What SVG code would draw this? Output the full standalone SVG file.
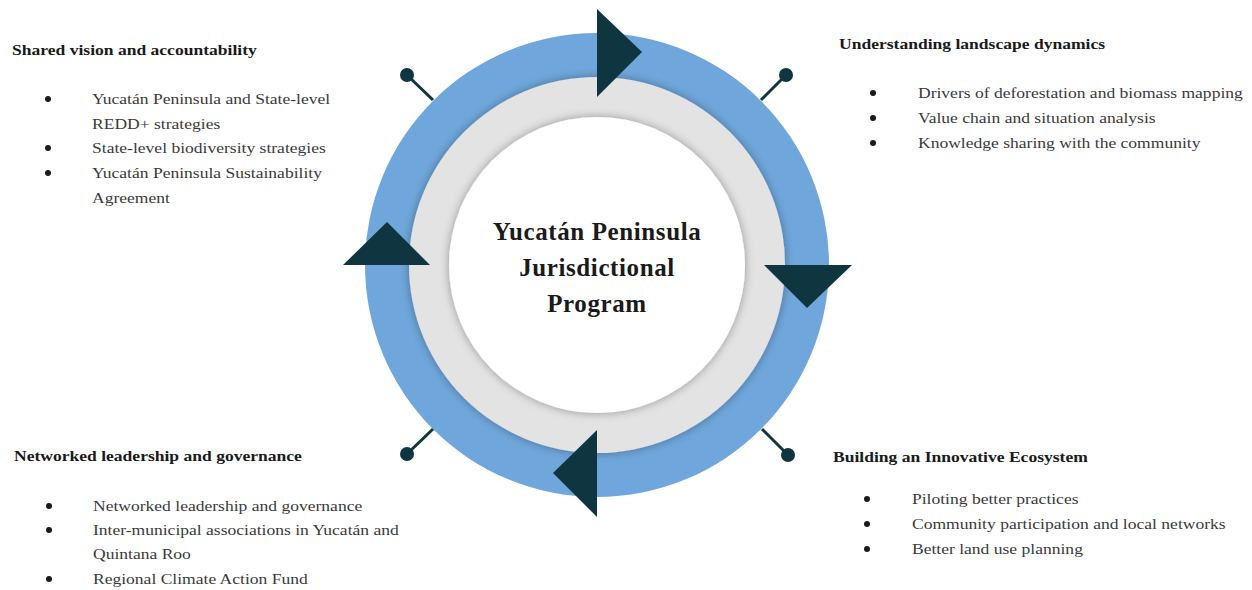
<svg xmlns="http://www.w3.org/2000/svg" width="1252" height="590" viewBox="0 0 1252 590">
<defs>
<style>
.title{font-family:"Liberation Serif",serif;font-weight:bold;font-size:15px;fill:#1a1a1a}
.item{font-family:"Liberation Serif",serif;font-size:15px;fill:#3a3a3a}
.center{font-family:"Liberation Serif",serif;font-weight:bold;font-size:25px;fill:#1a1a1a;text-anchor:middle;letter-spacing:0.6px}
.arrow{fill:#0e3540}
.pin{stroke:#0e3540;stroke-width:3}
.dot{fill:#0e3540}
.bul{fill:#1a1a1a}
</style>
<filter id="sh" x="-20%" y="-20%" width="140%" height="140%">
<feDropShadow dx="0" dy="0" stdDeviation="5" flood-color="#000" flood-opacity="0.35"/>
</filter>
</defs>
<rect width="1252" height="590" fill="#fff"/>
<g id="ring">
<circle cx="597" cy="265" r="232" fill="#6fa7dc"/>
<circle cx="597" cy="265" r="188" fill="#e3e3e3" filter="url(#sh)"/>
<circle cx="597" cy="265" r="148" fill="#fff" filter="url(#sh)"/>
</g>
<g id="connectors">
<line class="pin" x1="407" y1="75" x2="433" y2="100"/>
<circle class="dot" cx="407" cy="75" r="7"/>
<line class="pin" x1="786" y1="75" x2="761" y2="100"/>
<circle class="dot" cx="786" cy="75" r="7"/>
<line class="pin" x1="407" y1="454" x2="433" y2="429"/>
<circle class="dot" cx="407" cy="454" r="7"/>
<line class="pin" x1="788" y1="455" x2="762" y2="429"/>
<circle class="dot" cx="788" cy="455" r="7"/>
<polygon class="arrow" points="597,9 597,97 642,52"/>
<polygon class="arrow" points="764,265 852,265 807,308"/>
<polygon class="arrow" points="597,430 597,517 553,473"/>
<polygon class="arrow" points="343,265 430,265 387,222"/>
</g>
<g id="center">
<text class="center" x="597" y="240">Yucatán Peninsula</text>
<text class="center" x="597" y="276">Jurisdictional</text>
<text class="center" x="597" y="312">Program</text>
</g>
<g id="shared-vision">
<circle class="bul" cx="48" cy="99" r="3"/>
<circle class="bul" cx="48" cy="148" r="3"/>
<circle class="bul" cx="48" cy="173" r="3"/>
<g transform="translate(12,0) scale(1.17,1)">
<text class="title" x="0" y="55">Shared vision and accountability</text>
<text class="item" x="68.4" y="104">Yucatán Peninsula and State-level</text>
<text class="item" x="68.4" y="129">REDD+ strategies</text>
<text class="item" x="68.4" y="153">State-level biodiversity strategies</text>
<text class="item" x="68.4" y="178">Yucatán Peninsula Sustainability</text>
<text class="item" x="68.4" y="203">Agreement</text>
</g>
</g>
<g id="landscape">
<circle class="bul" cx="873" cy="93" r="3"/>
<circle class="bul" cx="873" cy="118" r="3"/>
<circle class="bul" cx="873" cy="143" r="3"/>
<g transform="translate(839,0) scale(1.17,1)">
<text class="title" x="0" y="49">Understanding landscape dynamics</text>
<text class="item" x="67.5" y="98">Drivers of deforestation and biomass mapping</text>
<text class="item" x="67.5" y="123">Value chain and situation analysis</text>
<text class="item" x="67.5" y="148">Knowledge sharing with the community</text>
</g>
</g>
<g id="networked">
<circle class="bul" cx="49" cy="506" r="3"/>
<circle class="bul" cx="49" cy="530" r="3"/>
<circle class="bul" cx="49" cy="579" r="3"/>
<g transform="translate(14,0) scale(1.17,1)">
<text class="title" x="0" y="461">Networked leadership and governance</text>
<text class="item" x="67.5" y="511">Networked leadership and governance</text>
<text class="item" x="67.5" y="535">Inter-municipal associations in Yucatán and</text>
<text class="item" x="67.5" y="559">Quintana Roo</text>
<text class="item" x="67.5" y="584">Regional Climate Action Fund</text>
</g>
</g>
<g id="ecosystem">
<circle class="bul" cx="867" cy="499" r="3"/>
<circle class="bul" cx="867" cy="524" r="3"/>
<circle class="bul" cx="867" cy="549" r="3"/>
<g transform="translate(833,0) scale(1.17,1)">
<text class="title" x="0" y="462">Building an Innovative Ecosystem</text>
<text class="item" x="67.5" y="504">Piloting better practices</text>
<text class="item" x="67.5" y="529">Community participation and local networks</text>
<text class="item" x="67.5" y="554">Better land use planning</text>
</g>
</g>
</svg>
